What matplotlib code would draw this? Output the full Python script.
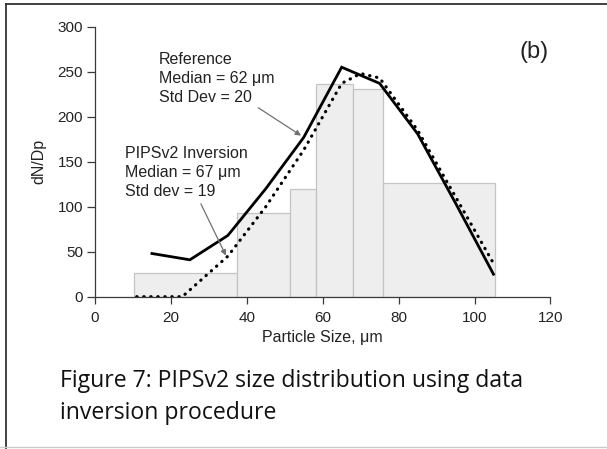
import matplotlib
matplotlib.use('Agg')
import matplotlib.pyplot as plt
from matplotlib.lines import Line2D

plt.rcParams['font.family'] = ['Liberation Sans', 'DejaVu Sans']

# histogram bins of the inverted distribution
bin_edges = [10.3, 37.3, 51.4, 58.2, 68.1, 75.9, 105.3]
bin_counts = [26.5, 92.7, 119.3, 236.3, 230.4, 126.8]

# reference distribution (solid)
ref_size = [15, 25, 35, 45, 55, 65, 75, 85, 95, 105]
ref_dndp = [48, 41, 68, 120, 177, 255, 237, 181, 104, 25]

# PIPSv2 inversion (dotted)
inv_size = [11, 23, 35, 45, 55, 65, 70, 75, 85, 95, 105]
inv_dndp = [0, 0, 45, 100, 163, 237, 248, 243, 185, 111, 37]

x_ticks = [0, 20, 40, 60, 80, 100, 120]
y_ticks = [0, 50, 100, 150, 200, 250, 300]

fig = plt.figure(figsize=(6.07, 4.49), dpi=100)
ax = fig.add_axes([95 / 607, 1 - 296.7 / 449, 455.4 / 607, 270 / 449])

widths = [bin_edges[i + 1] - bin_edges[i] for i in range(len(bin_counts))]
ax.bar(bin_edges[:-1], bin_counts, width=widths, align='edge',
       color='#eeeeee', edgecolor='#c4c4c4', linewidth=0.9, zorder=1)

ax.plot(ref_size, ref_dndp, color='black', lw=2.0, solid_joinstyle='miter', zorder=3)
ax.plot(inv_size, inv_dndp, color='black', lw=2.3, linestyle=(0, (0.1, 2.1)),
        dash_capstyle='round', zorder=3)

ax.set_xlim(0, 120)
ax.set_ylim(0, 300)
ax.set_xticks(x_ticks)
ax.set_yticks(y_ticks)
for s in ['top', 'right']:
    ax.spines[s].set_visible(False)
for s in ['left', 'bottom']:
    ax.spines[s].set_color('#3a3a3a')
    ax.spines[s].set_linewidth(0.9)
ax.tick_params(axis='y', direction='out', length=5.5, width=0.9, pad=3,
               labelsize=11, colors='#3a3a3a', labelcolor='#222222')
ax.tick_params(axis='x', direction='out', length=5, width=0.9, pad=5,
               labelsize=11, colors='#3a3a3a', labelcolor='#222222')

ax.set_xlabel('Particle Size, \u03bcm', fontsize=11.5, color='#222222', labelpad=4)
ax.set_ylabel('dN/Dp', fontsize=11.5, color='#222222', labelpad=8)

txt = dict(fontsize=11.5, color='#222222', va='baseline', ha='left')
ax.text(16.9, 258.6, 'Reference', **txt)
ax.text(16.9, 237.3, 'Median = 62 \u03bcm', **txt)
ax.text(16.9, 216.0, 'Std Dev = 20', **txt)
ax.text(7.9, 153.8, 'PIPSv2 Inversion', **txt)
ax.text(7.9, 132.7, 'Median = 67 \u03bcm', **txt)
ax.text(7.9, 111.7, 'Std dev = 19', **txt)
ax.text(115.8, 272, '(b)', fontsize=17, color='#222222', ha='center', va='center')

arrow = dict(arrowstyle='-|>', color='#707070', lw=0.9, mutation_scale=8,
             shrinkA=0, shrinkB=0)
ax.annotate('', xy=(54.3, 179), xytext=(43.0, 210), arrowprops=arrow)
ax.annotate('', xy=(34.5, 45.7), xytext=(27.9, 103.2), arrowprops=arrow)

# caption under the chart
cap = dict(fontsize=16.6, family=['Open Sans', 'DejaVu Sans'], color='#111111', va='baseline')
fig.text(60 / 607, 1 - 387.3 / 449, 'Figure 7: PIPSv2 size distribution using data', **cap)
fig.text(60 / 607, 1 - 419.3 / 449, 'inversion procedure', **cap)

# frame lines
fig.add_artist(Line2D([6 / 607, 1], [1 - 4 / 449, 1 - 4 / 449], color='#333333', lw=1.3))
fig.add_artist(Line2D([6 / 607, 6 / 607], [1 - 4 / 449, 0], color='#333333', lw=1.3))
fig.add_artist(Line2D([0, 1], [1 - 447 / 449, 1 - 447 / 449], color='#cccccc', lw=1.0))

plt.savefig('out.png', dpi=100, facecolor='white')
